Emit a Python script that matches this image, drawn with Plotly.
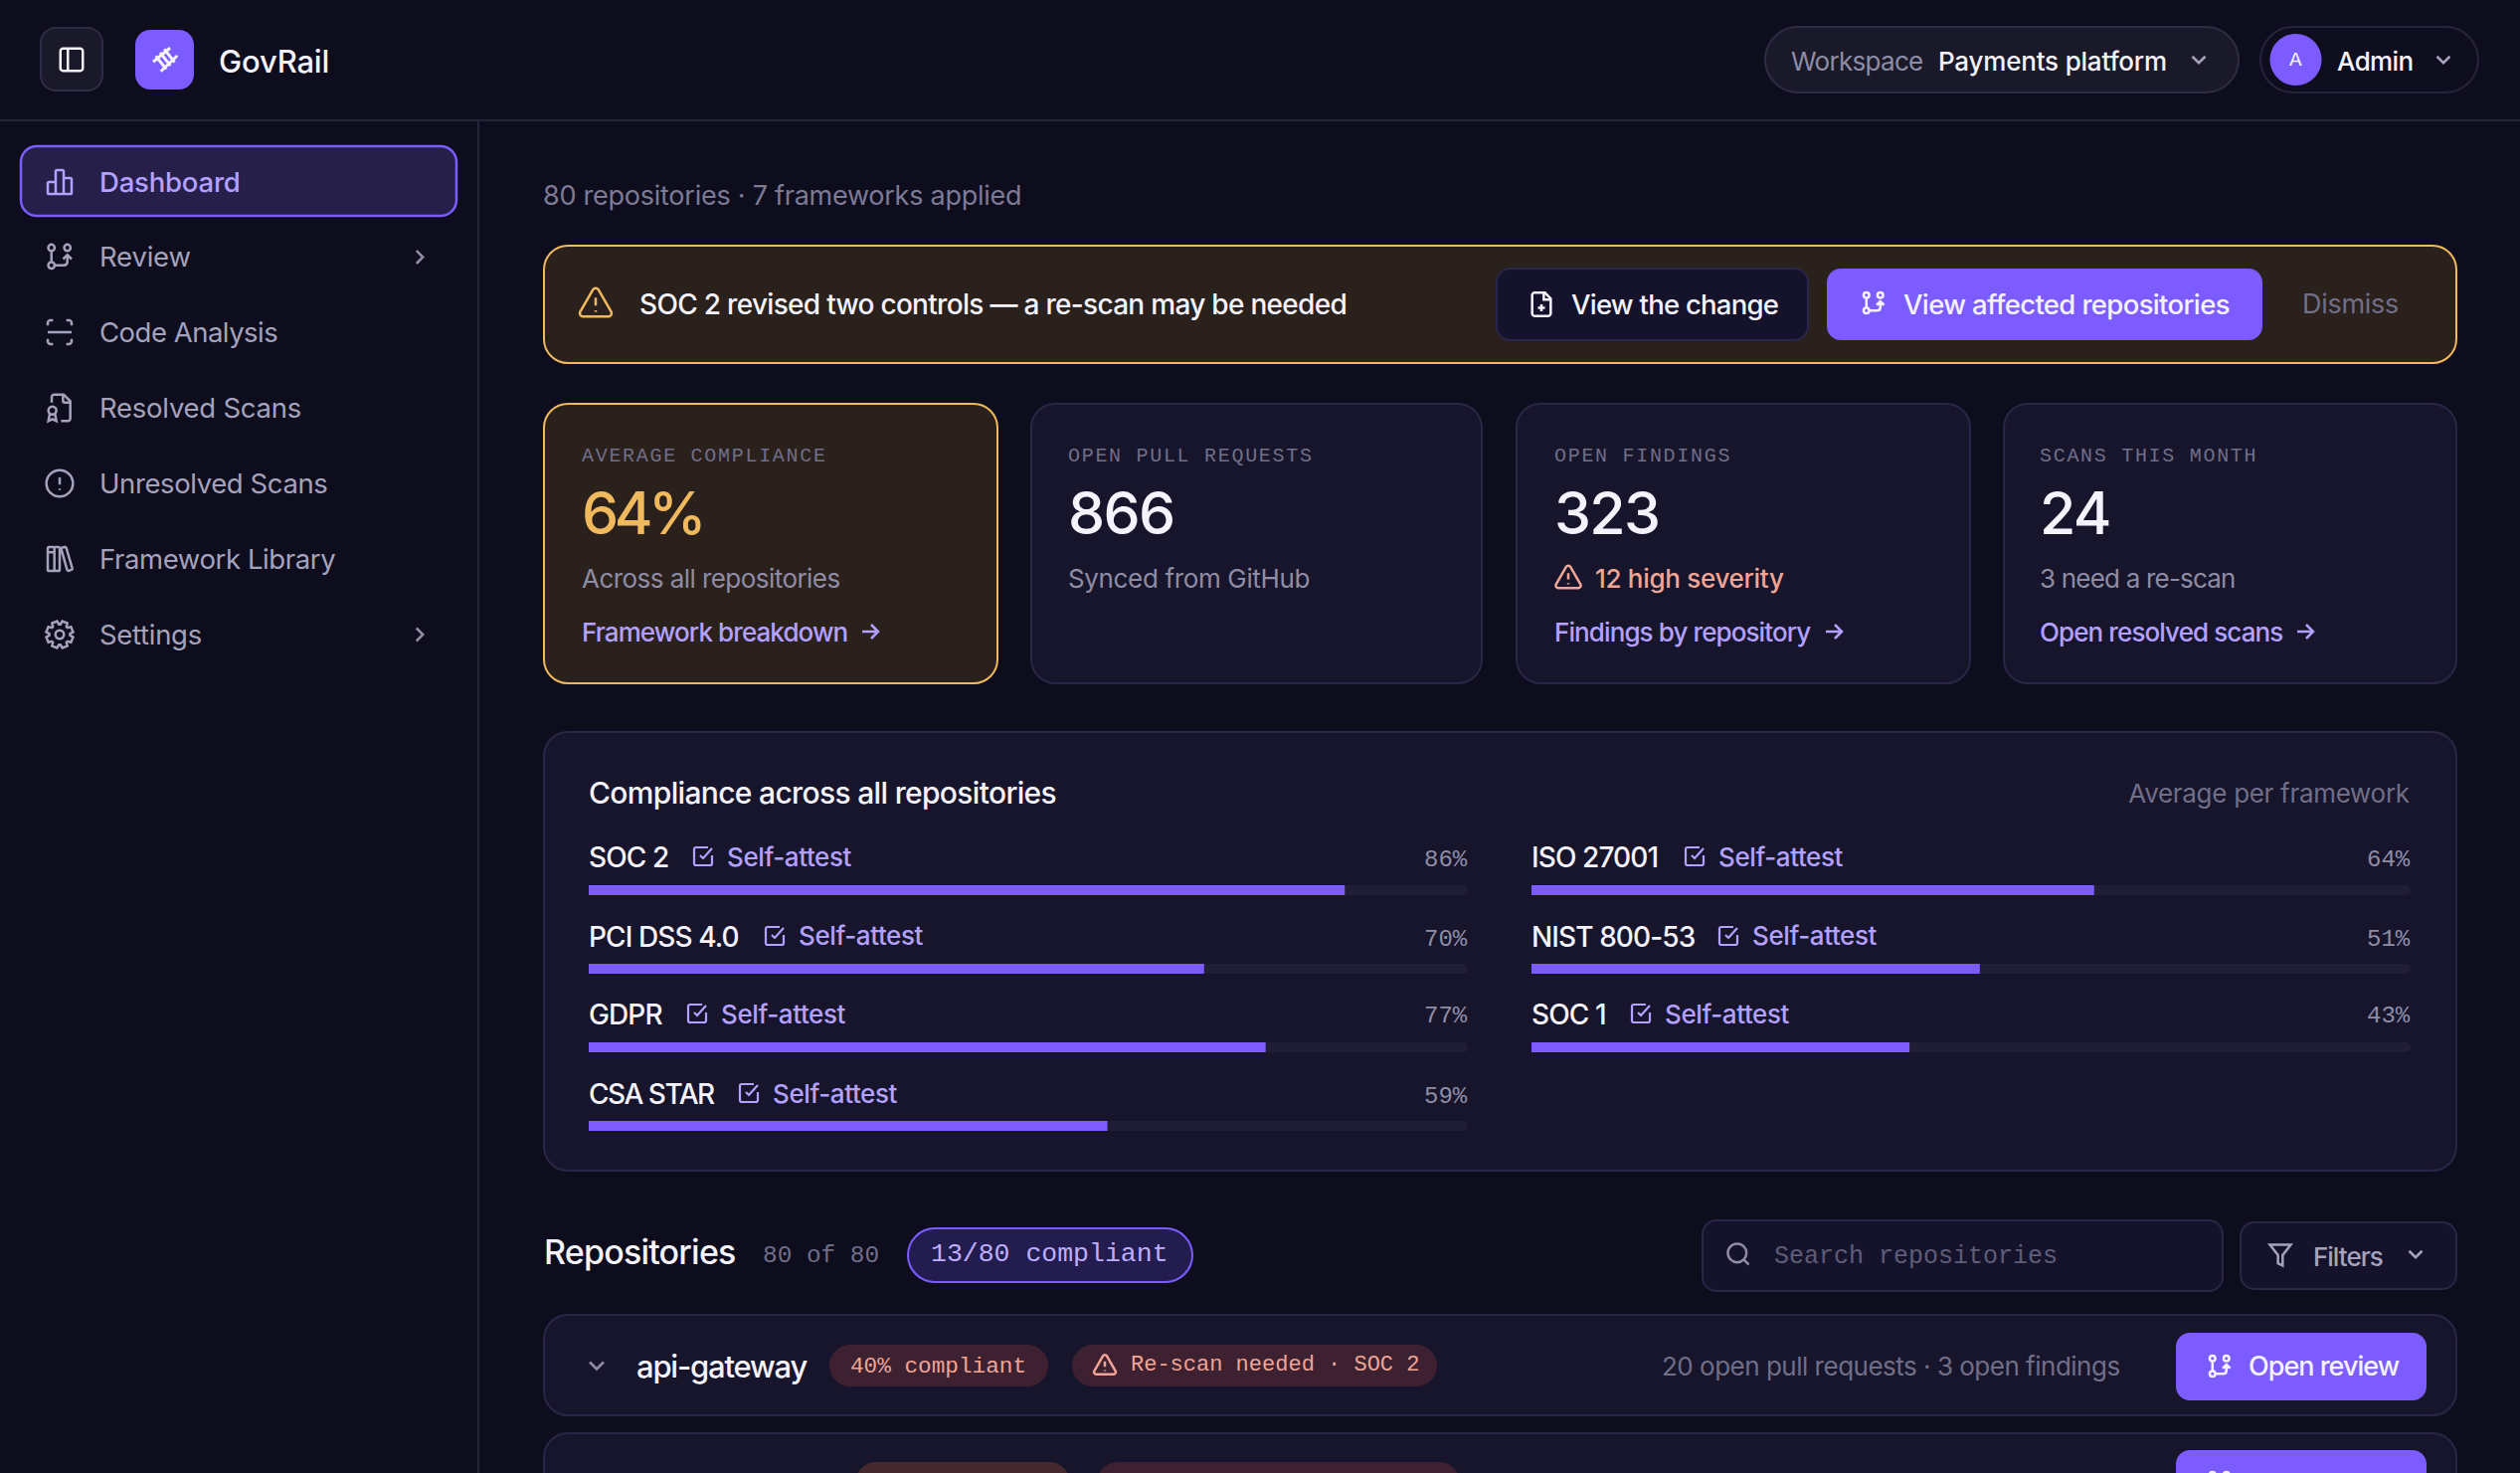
import json
import math
import re
import plotly.graph_objects as go

W, H = 2534, 1481

# --- data ---
frameworks_left = ["SOC 2", "PCI DSS 4.0", "GDPR", "CSA STAR"]
compliance_left = [86, 70, 77, 59]
frameworks_right = ["ISO 27001", "NIST 800-53", "SOC 1"]
compliance_right = [64, 51, 43]

nav_items = ["Dashboard", "Review", "Code Analysis", "Resolved Scans", "Unresolved Scans", "Framework Library", "Settings"]
nav_tracking = [-0.2, -0.2, -0.5, -0.25, -0.4, -0.4, -0.3]
card_labels = ["AVERAGE COMPLIANCE", "OPEN PULL REQUESTS", "OPEN FINDINGS", "SCANS THIS MONTH"]
card_values = ["64%", "866", "323", "24"]
card_value_tracking = [-4.5, -1.7, -1.7, -1.7]
card_subs = ["Across all repositories", "Synced from GitHub", "12 high severity", "3 need a re-scan"]
card_sub_tracking = [-0.55, -0.35, -0.3, -0.8]
card_links = ["Framework breakdown", "", "Findings by repository", "Open resolved scans"]

# --- colours ---
BG = "#0e0d1e"
PANEL = "#17152b"
BORDER = "#292745"
TRACK = "#201e36"
PURPLE = "#7c5cff"
LILAC = "#b3a0ff"
WHITE = "#f4f2fb"
MUTED = "#8f8ca5"
DIM = "#716e88"
ICON_GREY = "#a5a2bc"
AMBER = "#f0b95e"
AMBER_BG = "#2a201c"
RED = "#f0a597"
RED_BG = "#3d2131"
SANS = "Inter"
MONO = "Liberation Mono"

shapes = []
annotations = []
tracking = []  # one entry per annotation, same order


def pt(x, y):
    return f"{x / W:.6f},{1 - y / H:.6f}"


def add_path(path, fill=None, line=None, lw=0):
    shapes.append(dict(
        type="path", path=path, xref="paper", yref="paper", layer="below",
        fillcolor=fill or "rgba(0,0,0,0)",
        line=dict(color=line or "rgba(0,0,0,0)", width=lw),
    ))


def rrect(x0, y0, x1, y1, r, fill=None, line=None, lw=2):
    k = r * 0.45
    add_path(
        f"M{pt(x0 + r, y0)}L{pt(x1 - r, y0)}C{pt(x1 - k, y0)} {pt(x1, y0 + k)} {pt(x1, y0 + r)}"
        f"L{pt(x1, y1 - r)}C{pt(x1, y1 - k)} {pt(x1 - k, y1)} {pt(x1 - r, y1)}"
        f"L{pt(x0 + r, y1)}C{pt(x0 + k, y1)} {pt(x0, y1 - k)} {pt(x0, y1 - r)}"
        f"L{pt(x0, y0 + r)}C{pt(x0, y0 + k)} {pt(x0 + k, y0)} {pt(x0 + r, y0)}Z",
        fill, line, lw if line else 0)


def label(text, x, y, size, color, weight=400, family=SANS, anchor="left", track=0):
    tracking.append(track)
    annotations.append(dict(
        text=text, x=x / W, y=1 - y / H, xref="paper", yref="paper", showarrow=False,
        xanchor=anchor, yanchor="middle", align=anchor, borderpad=0, borderwidth=0,
        font=dict(family=family, size=size, color=color, weight=weight),
    ))


def circ(cx, cy, r):
    k = r * 0.5523
    return (f"M{cx - r} {cy}C{cx - r} {cy - k} {cx - k} {cy - r} {cx} {cy - r}"
            f"C{cx + k} {cy - r} {cx + r} {cy - k} {cx + r} {cy}"
            f"C{cx + r} {cy + k} {cx + k} {cy + r} {cx} {cy + r}"
            f"C{cx - k} {cy + r} {cx - r} {cy + k} {cx - r} {cy}Z")


def gear():
    pts = []
    for i in range(8):
        a = i * math.pi / 4 + math.pi / 8
        for da, rad in ((-0.32, 7.8), (-0.2, 10.3), (0.2, 10.3), (0.32, 7.8)):
            pts.append((12 + rad * math.cos(a + da), 12 + rad * math.sin(a + da)))
    return "M" + "L".join(f"{x:.2f} {y:.2f}" for x, y in pts) + "Z" + circ(12, 12, 3.2)


# lucide-like outlines on a 24 grid, absolute M/L/C/Z only
ICONS = {
    "panel": "M5 3L19 3C20 3 21 4 21 5L21 19C21 20 20 21 19 21L5 21C4 21 3 20 3 19L3 5C3 4 4 3 5 3Z M9 3L9 21",
    "track": "M1.7 14.8L16.3 2.8 M8.3 22.9L22.5 9.4 M4 9.8L13 21 M7.7 6.8L16.6 18 M11.3 3.8L20.2 15",
    "chart": "M9 12L4 12C3.4 12 3 12.4 3 13L3 20C3 20.6 3.4 21 4 21L20 21C20.6 21 21 20.6 21 20L21 10C21 9.4 20.6 9 20 9L15 9 "
             "M9 21L9 4C9 3.4 9.4 3 10 3L14 3C14.6 3 15 3.4 15 4L15 21",
    "pr": circ(5.8, 4.9, 2.4) + circ(5.8, 18.2, 2.4) + circ(17.8, 4.9, 2.4)
          + "M5.8 7.3L5.8 15.8 M8.2 18.2L15 18.2C16.8 18.2 17.8 17.2 17.8 15.4L17.8 10.5 M14.6 13.5L17.8 10.3L21 13.5",
    "scan": "M3 7L3 5C3 4 4 3 5 3L7 3 M17 3L19 3C20 3 21 4 21 5L21 7 M21 17L21 19C21 20 20 21 19 21L17 21 M7 21L5 21C4 21 3 20 3 19L3 17 M3 12L21 12",
    "filebadge": "M6 8L6 4C6 3 7 2 8 2L15 2L20 7L20 20C20 21 19 22 18 22L13 22 M14.5 2L14.5 6.5C14.5 7.5 15 8 16 8L20 8"
                 + circ(6.5, 14, 3) + "M4.5 16.5L3.5 22L6.5 20.5L9.5 22L8.5 16.5",
    "alert": circ(12, 12, 10) + "M12 7.5L12 13 M12 16L12 17",
    "library": "M4 3L7 3C7.6 3 8 3.4 8 4L8 20C8 20.6 7.6 21 7 21L4 21C3.4 21 3 20.6 3 20L3 4C3 3.4 3.4 3 4 3Z "
               "M8 4C8 3.4 8.4 3 9 3L11 3C11.6 3 12 3.4 12 4L12 20C12 20.6 11.6 21 11 21L8 21 M3 7L8 7 "
               "M14 3.4L16 3C16.5 2.9 16.9 3.2 17 3.6L21.5 19C21.7 19.6 21.4 20 20.9 20.2L18.8 20.9C18.2 21 17.8 20.8 17.6 20.2L13.2 4.6C13.1 4 13.4 3.5 14 3.4Z",
    "gear": gear(),
    "right": "M9 18L15 12L9 6",
    "down": "M6 9L12 15L18 9",
    "arrow": "M4 12L20 12 M13 5L20 12L13 19",
    "warn": "M10.3 3.9C11 2.7 13 2.7 13.7 3.9L21.9 18C22.6 19.3 21.6 21 20.1 21L3.9 21C2.4 21 1.4 19.3 2.1 18Z M12 9L12 14 M12 17L12 18",
    "fileplus": "M6 2L15 2L20 7L20 20C20 21 19 22 18 22L6 22C5 22 4 21 4 20L4 4C4 3 5 2 6 2Z M14 2L14 8L20 8 M12 12L12 18 M9 15L15 15",
    "check": "M21 11L21 19C21 20 20 21 19 21L5 21C4 21 3 20 3 19L3 5C3 4 4 3 5 3L17 3 M9 11L12 14L21 4",
    "search": circ(11, 11, 8) + "M21 21L16.7 16.7",
    "funnel": "M3 3L21 3L14 12L14 21L10 19L10 12Z",
}


def icon(name, cx, cy, size, color, lw=2.5):
    scale = size / 24

    def conv(m):
        x, y = float(m.group(1)), float(m.group(2))
        return pt(cx + (x - 12) * scale, cy + (y - 12) * scale)

    add_path(re.sub(r"(-?\d+\.?\d*) (-?\d+\.?\d*)", conv, ICONS[name]), None, color, lw)


# --- top bar and sidebar ---
add_path(f"M{pt(0, 121)}L{pt(W, 121)}", None, "#26243a", 2)
add_path(f"M{pt(481, 121)}L{pt(481, H)}", None, "#26243a", 2)

rrect(41, 28, 103, 91, 15, "#1a1929", "#2e2c44")
icon("panel", 72, 60, 30, WHITE)
rrect(136, 30, 195, 90, 15, PURPLE)
icon("track", 166, 59, 28, WHITE, 3)
label("GovRail", 220, 61, 31, WHITE, 500, track=-0.2)

rrect(1775, 27, 2251, 93, 33, "#1a1929", "#2e2c44")
label("Workspace", 1801, 61, 26, MUTED, track=-0.7)
label("Payments platform", 1949, 61, 26, WHITE, 500, track=-0.2)
icon("down", 2211, 60, 26, ICON_GREY)
rrect(2273, 27, 2492, 93, 33, None, "#26243c")
add_path(f"M{pt(2282.5, 60)}" + "C" + f"{pt(2282.5, 46)} {pt(2294, 34)} {pt(2308.5, 34)}"
         + "C" + f"{pt(2323, 34)} {pt(2334.5, 46)} {pt(2334.5, 60)}"
         + "C" + f"{pt(2334.5, 74)} {pt(2323, 86)} {pt(2308.5, 86)}"
         + "C" + f"{pt(2294, 86)} {pt(2282.5, 74)} {pt(2282.5, 60)}Z", PURPLE)
label("A", 2308.5, 60, 21, WHITE, family=MONO, anchor="center")
label("Admin", 2350, 61, 26, WHITE, 500, track=-0.6)
icon("down", 2457, 60, 26, ICON_GREY)

rrect(21, 147, 459, 217, 16, "#251f4a", PURPLE, 2.5)
nav_icons = ["chart", "pr", "scan", "filebadge", "alert", "library", "gear"]
nav_y = [183, 258.5, 334, 410, 486, 562, 638]
for i, name in enumerate(nav_items):
    active = i == 0
    icon(nav_icons[i], 60, nav_y[i], 32, LILAC if active else ICON_GREY)
    label(name, 100, nav_y[i], 27.5, LILAC if active else ICON_GREY, 500 if active else 400, track=nav_tracking[i])
    if name in ("Review", "Settings"):
        icon("right", 422, nav_y[i], 26, MUTED)

label("80 repositories · 7 frameworks applied", 546, 197, 27, "#7d7a95", track=-0.25)

# --- alert banner ---
rrect(547, 247, 2470, 365, 24, AMBER_BG, AMBER)
icon("warn", 599, 304, 38, AMBER)
label("SOC 2 revised two controls — a re-scan may be needed", 643, 306, 28, WHITE, 500, track=-0.7)
rrect(1505, 270, 1818, 342, 14, "#15132c", "#28264a")
icon("fileplus", 1550, 306, 28, WHITE)
label("View the change", 1580, 306, 27.5, WHITE, 500, track=-0.75)
rrect(1837, 270, 2275, 342, 14, PURPLE)
icon("pr", 1884, 305, 28, WHITE)
label("View affected repositories", 1914, 306, 27.5, WHITE, 500, track=-0.65)
label("Dismiss", 2315, 306, 27, "#716e88", track=-0.3)

# --- stat cards ---
card_x = [(547, 1003), (1037, 1490), (1525, 1981), (2015, 2470)]
card_tx = [585, 1074, 1563, 2051]
for i, (x0, x1) in enumerate(card_x):
    hot = i == 0
    rrect(x0, 406, x1, 687, 24, AMBER_BG if hot else PANEL, AMBER if hot else BORDER)
    tx = card_tx[i]
    label(card_labels[i], tx, 458, 20, DIM, family=MONO, track=1.7)
    label(card_values[i], tx, 515, 59, AMBER if hot else WHITE, 500, track=card_value_tracking[i])
    if i == 2:
        icon("warn", tx + 14, 580, 30, RED)
        label(card_subs[i], tx + 41, 581, 26, RED, 500, track=card_sub_tracking[i])
    else:
        label(card_subs[i], tx, 581, 26, MUTED, track=card_sub_tracking[i])
    if card_links[i]:
        label(card_links[i], tx, 635, 26, LILAC, 500, track=-0.9)
card_arrow_x = [875, None, 1844, 2318]
for x, lab in zip(card_arrow_x, card_links):
    if x:
        icon("arrow", x, 635, 24, LILAC)

# --- compliance panel ---
rrect(547, 736, 2470, 1177, 24, PANEL, BORDER)
label("Compliance across all repositories", 592, 797, 30, WHITE, 500, track=-0.67)
label("Average per framework", 2423, 798, 26, "#716e88", anchor="right", track=-0.3)

row_y = [862, 942, 1020, 1100]
left_tag_x = [731, 803, 725, 777]
right_tag_x = [1728, 1762, 1674]
for names, vals, tags, x0, xr in (
    (frameworks_left, compliance_left, left_tag_x, 592, 1476),
    (frameworks_right, compliance_right, right_tag_x, 1540, 2424),
):
    for j, name in enumerate(names):
        label(name, x0, row_y[j], 28, WHITE, 500, track=-1.5 if name == "CSA STAR" else -0.9)
        icon("check", tags[j] - 24, row_y[j] - 1, 24, LILAC, 2.2)
        label("Self-attest", tags[j], row_y[j] - 1, 26, LILAC, 500, track=-0.4)
        label(f"{vals[j]}%", xr, row_y[j] + 2, 24, MUTED, family=MONO, anchor="right")

# --- repositories header ---
label("Repositories", 547, 1258, 34, WHITE, 500, track=-0.8)
label("80 of 80", 767, 1262, 24.4, DIM, family=MONO)
rrect(913, 1235, 1199, 1289, 27, "#231c4f", PURPLE)
label("13/80 compliant", 936, 1261, 26.5, "#bfaeff", 500, MONO)
rrect(1712, 1227, 2235, 1298, 14, "#15132b", BORDER)
icon("search", 1748, 1261, 28, MUTED)
label("Search repositories", 1784, 1263, 25, "#5f5c77", family=MONO)
rrect(2253, 1229, 2470, 1296, 14, "#15132b", BORDER)
icon("funnel", 2293, 1262, 28, ICON_GREY)
label("Filters", 2326, 1263, 26, ICON_GREY, 500, track=-1)
icon("down", 2429, 1261, 26, ICON_GREY)

# --- repository rows ---
rrect(547, 1322, 2470, 1423, 24, PANEL, BORDER)
icon("down", 600, 1373, 28, MUTED)
label("api-gateway", 640, 1373, 31, WHITE, 500, track=-1.2)
rrect(834, 1352, 1054, 1394, 21, RED_BG)
label("40% compliant", 855, 1374, 22.7, RED, family=MONO)
rrect(1078, 1352, 1445, 1394, 21, RED_BG)
icon("warn", 1111, 1372, 26, RED)
label("Re-scan needed · SOC 2", 1137, 1372, 22, RED, family=MONO)
label("20 open pull requests · 3 open findings", 1671, 1373, 26, "#716e88", track=-0.5)
rrect(2188, 1340, 2440, 1408, 14, PURPLE)
icon("pr", 2232, 1374, 28, WHITE)
label("Open review", 2261, 1373, 27, WHITE, 500, track=-1)

# next row, only its top edge is on the page
rrect(547, 1441, 2470, 1540, 24, PANEL, BORDER)
label("billing-service", 640, 1494, 31, WHITE, 500, track=-1.2)
rrect(860, 1470, 1076, 1512, 21, "#46282f")
rrect(1103, 1470, 1468, 1512, 21, RED_BG)
icon("warn", 1136, 1492, 26, RED)
rrect(2188, 1458, 2440, 1526, 14, PURPLE)
icon("pr", 2232, 1491, 28, WHITE)

# --- bars, each column on its own axes ---
fig = go.Figure()
for names, vals, xa, ya in (
    (frameworks_left, compliance_left, "x", "y"),
    (frameworks_right, compliance_right, "x2", "y2"),
):
    fig.add_trace(go.Bar(x=[100] * len(names), y=names, orientation="h", width=0.127,
                         marker=dict(color=TRACK, line_width=0), xaxis=xa, yaxis=ya,
                         showlegend=False, hoverinfo="skip"))
    fig.add_trace(go.Bar(x=vals, y=names, orientation="h", width=0.127,
                         marker=dict(color=PURPLE, line_width=0), xaxis=xa, yaxis=ya,
                         showlegend=False))

axis_off = dict(visible=False, fixedrange=True)
fig.update_layout(
    width=W, height=H, margin=dict(l=0, r=0, t=0, b=0),
    paper_bgcolor=BG, plot_bgcolor="rgba(0,0,0,0)",
    barmode="overlay", barcornerradius=5,
    shapes=shapes, annotations=annotations,
    xaxis=dict(domain=[592 / W, 1476 / W], range=[0, 100], anchor="y", **axis_off),
    yaxis=dict(domain=[1 - 1171.5 / H, 1 - 855.5 / H], autorange="reversed", anchor="x", **axis_off),
    xaxis2=dict(domain=[1540 / W, 2424 / W], range=[0, 100], anchor="y2", **axis_off),
    yaxis2=dict(domain=[1 - 1092.5 / H, 1 - 855.5 / H], autorange="reversed", anchor="x2", **axis_off),
)

# no body margin, and the tracking plotly has no font option for
post = """
document.body.style.margin = '0';
document.body.style.background = '#0e0d1e';
var tracks = %s;
document.querySelectorAll('.annotation-text').forEach(function (t, i) {
  if (tracks[i]) t.style.letterSpacing = tracks[i] + 'px';
});
""" % json.dumps(tracking)
fig.write_html("out.html", config={"displayModeBar": False}, post_script=post)
